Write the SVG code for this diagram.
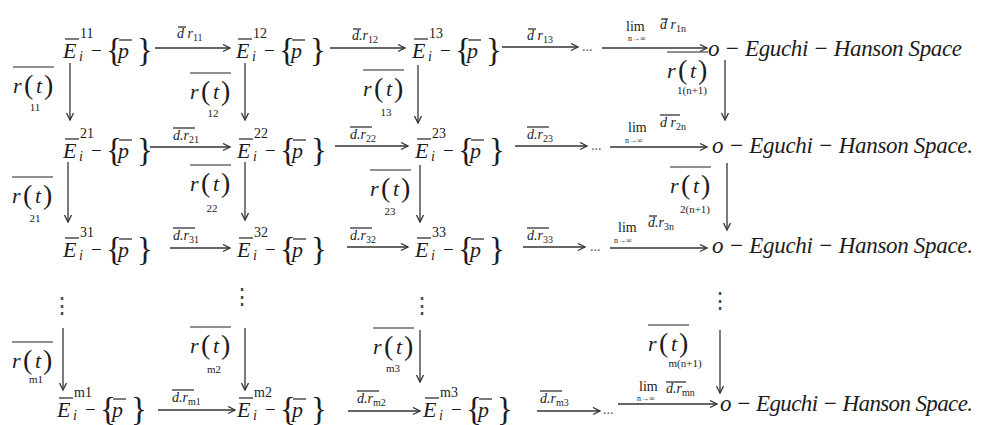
<svg xmlns="http://www.w3.org/2000/svg" width="985" height="425" viewBox="0 0 985 425" font-family="'Liberation Serif','DejaVu Serif',serif">
<style>
text{font-family:"Liberation Serif","DejaVu Serif",serif;fill:#1c1c1c}
.it{font-style:italic}
.b{font-size:22px}
.mi{font-size:19px}
.br{font-size:33px}
.pa{font-size:28px}
.sp{font-size:14px}
.sb{font-size:11px;text-anchor:middle}
.lb{font-size:14px;font-style:italic}
.ls{font-size:10px;font-style:normal}
.lim{font-size:14px}
.inf{font-size:8px}
.ol{stroke:#222;stroke-width:1.2}
.ar{stroke:#333;stroke-width:1.3;fill:none;marker-end:url(#ah)}
.eg{font-size:23px;font-style:italic}
.dots{font-size:14px;fill:#555}
.vd{font-family:"DejaVu Serif",serif;font-size:22px;fill:#444;text-anchor:middle}
</style>
<defs>
<marker id="ah" markerUnits="userSpaceOnUse" markerWidth="12" markerHeight="10" refX="8" refY="4" orient="auto"><path d="M1,0.5 L8,4 L1,7.5" fill="none" stroke="#333" stroke-width="1.3"/></marker>
<g id="Ep">
<text class="it b" x="0" y="0">E</text>
<line class="ol" x1="2" y1="-19" x2="16" y2="-19"/>
<text class="it sp" x="16" y="3">i</text>
<text class="mi" x="28" y="-1">−</text>
<text class="br" x="43" y="3">{</text>
<text class="it b" x="55" y="0">p</text>
<line class="ol" x1="56" y1="-18" x2="69" y2="-18"/>
<text class="br" x="74" y="3">}</text>
</g>
<g id="rt">
<text class="it b" x="0" y="0">r</text>
<text class="pa" x="11" y="1">(</text>
<text class="it b" x="23" y="0">t</text>
<text class="pa" x="31" y="1">)</text>
<line class="ol" x1="0" y1="-26" x2="41" y2="-26"/>
</g>
</defs>
<rect width="985" height="425" fill="#fff"/>

<g id="n11" transform="translate(63,58)"><use href="#Ep"/><text class="sp" x="17" y="-20">11</text></g>
<g id="n12" transform="translate(236,58)"><use href="#Ep"/><text class="sp" x="17" y="-20">12</text></g>
<g id="n13" transform="translate(412,58)"><use href="#Ep"/><text class="sp" x="17" y="-20">13</text></g>
<g id="o1"><text class="eg" x="708" y="56" textLength="254" lengthAdjust="spacing">o − Eguchi − Hanson Space</text></g>

<g id="n21" transform="translate(63,158)"><use href="#Ep"/><text class="sp" x="17" y="-20">21</text></g>
<g id="n22" transform="translate(237,158)"><use href="#Ep"/><text class="sp" x="17" y="-20">22</text></g>
<g id="n23" transform="translate(415,158)"><use href="#Ep"/><text class="sp" x="17" y="-20">23</text></g>
<g id="o2"><text class="eg" x="712" y="153" textLength="261" lengthAdjust="spacing">o − Eguchi − Hanson Space.</text></g>

<g id="n31" transform="translate(63,257)"><use href="#Ep"/><text class="sp" x="17" y="-20">31</text></g>
<g id="n32" transform="translate(237,257)"><use href="#Ep"/><text class="sp" x="17" y="-20">32</text></g>
<g id="n33" transform="translate(415,257)"><use href="#Ep"/><text class="sp" x="17" y="-20">33</text></g>
<g id="o3"><text class="eg" x="712" y="253" textLength="261" lengthAdjust="spacing">o − Eguchi − Hanson Space.</text></g>

<g id="nm1" transform="translate(57,417)"><use href="#Ep"/><text class="sp" x="17" y="-20">m1</text></g>
<g id="nm2" transform="translate(237,417)"><use href="#Ep"/><text class="sp" x="17" y="-20">m2</text></g>
<g id="nm3" transform="translate(423,417)"><use href="#Ep"/><text class="sp" x="17" y="-20">m3</text></g>
<g id="om"><text class="eg" x="720" y="411" textLength="253" lengthAdjust="spacing">o − Eguchi − Hanson Space.</text></g>

<g id="vdots">
<text class="vd" x="62" y="313">⋮</text>
<text class="vd" x="242" y="304">⋮</text>
<text class="vd" x="422" y="313">⋮</text>
<text class="vd" x="720" y="308">⋮</text>
</g>

<g id="connectors">
<path class="ar" d="M155,48 H230"/>
<path class="ar" d="M330,48 H405"/>
<path class="ar" d="M502,47 H578"/>
<path class="ar" d="M602,48 H707"/>
<path class="ar" d="M150,147 H230"/>
<path class="ar" d="M335,146 H408"/>
<path class="ar" d="M515,146 H587"/>
<path class="ar" d="M610,147 H707"/>
<path class="ar" d="M170,248 H230"/>
<path class="ar" d="M347,247 H408"/>
<path class="ar" d="M523,247 H585"/>
<path class="ar" d="M610,248 H707"/>
<path class="ar" d="M158,410 H235"/>
<path class="ar" d="M348,411 H420"/>
<path class="ar" d="M537,411 H600"/>
<path class="ar" d="M618,404 H717"/>
<path class="ar" d="M70,63 V120"/>
<path class="ar" d="M68,162 V222"/>
<path class="ar" d="M63,328 V390"/>
<path class="ar" d="M245,63 V120"/>
<path class="ar" d="M245,162 V220"/>
<path class="ar" d="M245,328 V390"/>
<path class="ar" d="M418,65 V123"/>
<path class="ar" d="M420,165 V222"/>
<path class="ar" d="M420,330 V382"/>
<path class="ar" d="M725,60 V120"/>
<path class="ar" d="M727,163 V230"/>
<path class="ar" d="M720,330 V393"/>

<g id="dotsleaders">
<text class="dots" x="582" y="51">...</text>
<text class="dots" x="591" y="150">...</text>
<text class="dots" x="590" y="251">...</text>
<text class="dots" x="603" y="414">...</text>
</g>

<g id="hlabels">
<text class="lb" x="177" y="38">d r<tspan class="ls" dy="3">11</tspan></text>
<line class="ol" x1="178" y1="27" x2="186" y2="27"/>
<text class="lb" x="352" y="40">d.r<tspan class="ls" dy="3">12</tspan></text>
<line class="ol" x1="353" y1="29" x2="361" y2="29"/>
<text class="lb" x="527" y="40">d r<tspan class="ls" dy="3">13</tspan></text>
<line class="ol" x1="528" y1="29" x2="536" y2="29"/>
<text class="lim" x="626" y="31">lim</text>
<text class="inf" x="628" y="41">n→∞</text>
<text class="lb" x="660" y="29" font-size="12">d r<tspan class="ls" dy="3" font-size="8">1n</tspan></text>
<line class="ol" x1="661" y1="19" x2="668" y2="19"/>

<text class="lb" x="173" y="140">d.r<tspan class="ls" dy="3">21</tspan></text>
<line class="ol" x1="173" y1="128" x2="195" y2="128"/>
<text class="lb" x="350" y="139">d.r<tspan class="ls" dy="3">22</tspan></text>
<line class="ol" x1="350" y1="127" x2="372" y2="127"/>
<text class="lb" x="527" y="139">d.r<tspan class="ls" dy="3">23</tspan></text>
<line class="ol" x1="527" y1="127" x2="549" y2="127"/>
<text class="lim" x="628" y="132">lim</text>
<text class="inf" x="625" y="143">n→∞</text>
<text class="lb" x="660" y="127">d r<tspan class="ls" dy="3">2n</tspan></text>
<line class="ol" x1="660" y1="115" x2="680" y2="115"/>

<text class="lb" x="173" y="240">d.r<tspan class="ls" dy="3">31</tspan></text>
<line class="ol" x1="173" y1="228" x2="195" y2="228"/>
<text class="lb" x="350" y="240">d.r<tspan class="ls" dy="3">32</tspan></text>
<line class="ol" x1="350" y1="228" x2="372" y2="228"/>
<text class="lb" x="527" y="240">d.r<tspan class="ls" dy="3">33</tspan></text>
<line class="ol" x1="527" y1="228" x2="549" y2="228"/>
<text class="lim" x="618" y="232">lim</text>
<text class="inf" x="614" y="243">n→∞</text>
<text class="lb" x="648" y="227">d.r<tspan class="ls" dy="3">3n</tspan></text>
<line class="ol" x1="649" y1="216" x2="657" y2="216"/>

<text class="lb" x="172" y="402">d.r<tspan class="ls" dy="3">m1</tspan></text>
<line class="ol" x1="172" y1="390" x2="194" y2="390"/>
<text class="lb" x="357" y="403">d.r<tspan class="ls" dy="3">m2</tspan></text>
<line class="ol" x1="357" y1="391" x2="379" y2="391"/>
<text class="lb" x="540" y="403">d.r<tspan class="ls" dy="3">m3</tspan></text>
<line class="ol" x1="540" y1="391" x2="562" y2="391"/>
<text class="lim" x="639" y="391" font-size="11">lim</text>
<text class="inf" x="637" y="401" font-size="7">n→∞</text>
<text class="lb" x="666" y="393" font-size="13">d.r<tspan class="ls" dy="3">mn</tspan></text>
<line class="ol" x1="666" y1="382" x2="686" y2="382"/>
</g>

<g id="vlabels">
<use href="#rt" x="13" y="93"/><text class="sb" x="35" y="111">11</text>
<use href="#rt" x="190" y="99"/><text class="sb" x="213" y="117">12</text>
<use href="#rt" x="363" y="96"/><text class="sb" x="386" y="116">13</text>
<use href="#rt" x="667" y="78"/><text class="sb" x="692" y="94">1(n+1)</text>
<use href="#rt" x="12" y="203"/><text class="sb" x="35" y="222">21</text>
<use href="#rt" x="190" y="191"/><text class="sb" x="212" y="212">22</text>
<use href="#rt" x="370" y="196"/><text class="sb" x="390" y="215">23</text>
<use href="#rt" x="670" y="193"/><text class="sb" x="695" y="213">2(n+1)</text>
<use href="#rt" x="12" y="368"/><text class="sb" x="36" y="383">m1</text>
<use href="#rt" x="190" y="353"/><text class="sb" x="214" y="373">m2</text>
<use href="#rt" x="373" y="354"/><text class="sb" x="393" y="372">m3</text>
<use href="#rt" x="648" y="351"/><text class="sb" x="685" y="367">m(n+1)</text>
</g>
</g>
</svg>
